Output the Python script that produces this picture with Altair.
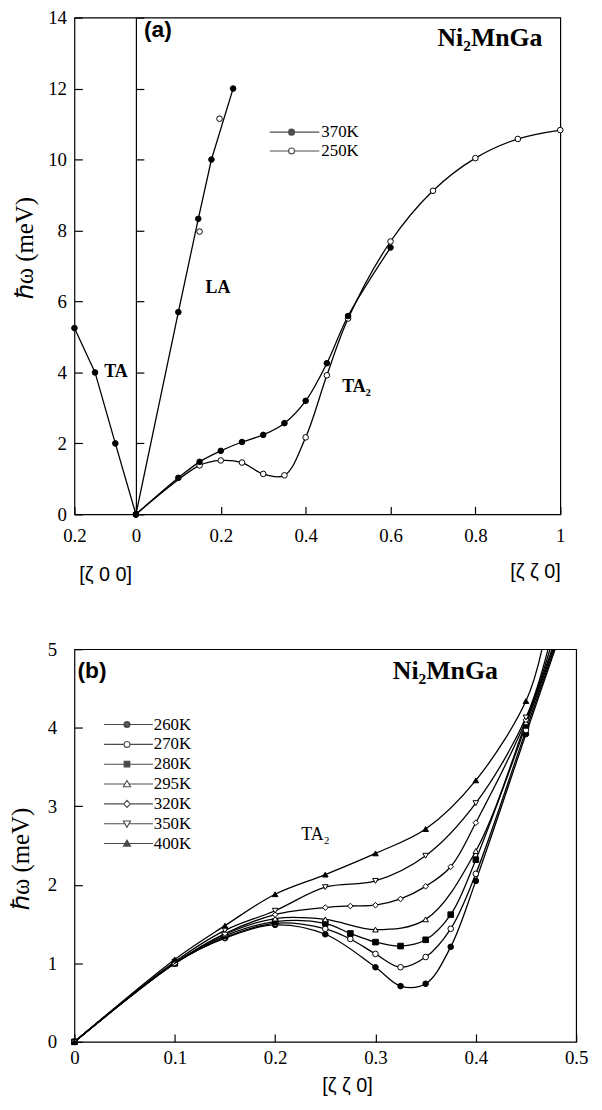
import altair as alt
import pandas as pd

SERIF = "Liberation Serif"
SANS = "Liberation Sans"

# ---------------- panel (a) data ----------------
ta_zeta = [0.0, 0.067, 0.133, 0.2]          # [zeta 0 0] branch, 370K
ta_omega = [0.0, 2.0, 4.0, 5.25]

la370_zeta = [0.0, 0.1, 0.147, 0.178, 0.229]
la370_omega = [0.0, 5.7, 8.33, 10.0, 12.0]
la250_zeta = [0.15, 0.197]
la250_omega = [7.97, 11.15]

ta2_370_zeta = [0.0, 0.1, 0.15, 0.2, 0.25, 0.3, 0.35, 0.4, 0.45, 0.5, 0.6]
ta2_370_omega = [0.0, 1.03, 1.48, 1.79, 2.04, 2.24, 2.57, 3.2, 4.26, 5.59, 7.52]
ta2_250_zeta = [0.0, 0.15, 0.2, 0.25, 0.3, 0.35, 0.4, 0.45, 0.5, 0.6, 0.7, 0.8, 0.9, 1.0]
ta2_250_omega = [0.0, 1.38, 1.52, 1.46, 1.14, 1.1, 2.17, 3.92, 5.52, 7.69, 9.12, 10.04, 10.58, 10.83]

a_series = ["370K", "250K"]
a_fills = ["black", "white"]

# ---------------- panel (b) data ----------------
b_series = ["260K", "270K", "280K", "295K", "320K", "350K", "400K"]
b_zeta = [0.0, 0.1, 0.15, 0.2, 0.25, 0.275, 0.3, 0.325, 0.35, 0.375, 0.4, 0.45]
omega_260 = [0.0, 1.0, 1.32, 1.49, 1.37, None, 0.95, 0.71, 0.74, 1.21, 2.05, 3.92]
omega_270 = [0.0, 1.0, 1.33, 1.51, 1.44, 1.31, 1.12, 0.95, 1.08, 1.44, 2.14, 3.97]
omega_280 = [0.0, 1.0, 1.35, 1.53, 1.51, 1.38, 1.27, 1.22, 1.30, 1.62, 2.32, 4.03]
omega_295 = [0.0, 1.0, 1.37, 1.57, 1.56, None, 1.43, None, 1.56, None, 2.43, 4.07]
omega_320 = [0.0, 1.0, 1.38, 1.62, 1.71, 1.73, 1.74, 1.82, 1.98, 2.23, 2.79, 4.10]
omega_350 = [0.0, 1.02, 1.42, 1.67, 1.97, None, 2.05, None, 2.37, None, 3.04, 4.13]
omega_400 = [0.0, 1.05, 1.48, 1.88, 2.13, None, 2.40, None, 2.71, None, 3.33, 4.34]
# where each curve leaves the top of the frame (omega = 5)
exit_zeta = [0.479, 0.478, 0.477, 0.476, 0.474, 0.472, 0.466]
exit_omega = [5.0, 5.0, 5.0, 5.0, 5.0, 5.0, 5.0]

b_shapes = ["circle", "circle", "square", "triangle-up", "diamond", "triangle-down", "triangle-up"]
b_fills = ["black", "white", "black", "white", "white", "white", "black"]

# ---------------- build tables ----------------
df_ta = pd.DataFrame({"zeta": ta_zeta, "omega": ta_omega})
df_la_line = pd.DataFrame({"zeta": la370_zeta, "omega": la370_omega, "series": "370K"})
df_ta2 = pd.concat([
    pd.DataFrame({"zeta": ta2_370_zeta, "omega": ta2_370_omega, "series": "370K"}),
    pd.DataFrame({"zeta": ta2_250_zeta, "omega": ta2_250_omega, "series": "250K"}),
])
# open (250K) markers first, filled (370K) drawn on top
df_a_pts = pd.concat([
    pd.DataFrame({"zeta": la250_zeta, "omega": la250_omega, "series": "250K"}),
    pd.DataFrame({"zeta": ta2_250_zeta, "omega": ta2_250_omega, "series": "250K"}),
    pd.DataFrame({"zeta": la370_zeta, "omega": la370_omega, "series": "370K"}),
    pd.DataFrame({"zeta": ta2_370_zeta, "omega": ta2_370_omega, "series": "370K"}),
]).reset_index(drop=True)
df_a_pts["order"] = range(len(df_a_pts))

b_omegas = [omega_260, omega_270, omega_280, omega_295, omega_320, omega_350, omega_400]
rows = []
for s, om, ez, eo in zip(b_series, b_omegas, exit_zeta, exit_omega):
    for z, w in zip(b_zeta, om):
        if w is not None:
            rows.append({"zeta": z, "omega": w, "series": s, "marker": True})
    rows.append({"zeta": ez, "omega": eo, "series": s, "marker": False})
df_b = pd.DataFrame(rows)


# ---------------- legend symbols (line + marker outline, solid via rings) ----------------
def _poly(pts, k, cy):
    return "M" + "L".join(f"{x * k:.3f},{(y - cy) * k + cy:.3f}" for x, y in pts) + "Z"


def leg_path(shape, filled, left, right):
    ks = [1.0, 0.68, 0.36, 0.08] if filled else [1.0]
    if shape == "circle":
        segs = f"M{-left},0H-1M1,0H{right}"
        body = "".join(f"M{-r},0A{r},{r} 0 1,1 {r},0A{r},{r} 0 1,1 {-r},0Z" for r in ks)
    elif shape == "square":
        segs = f"M{-left},0H-0.95M0.95,0H{right}"
        body = "".join(_poly([(-0.95, -0.95), (0.95, -0.95), (0.95, 0.95), (-0.95, 0.95)], k, 0) for k in ks)
    elif shape == "triangle-up":
        segs = f"M{-left},0H-0.69M0.69,0H{right}"
        body = "".join(_poly([(0, -1.2), (1.2, 0.9), (-1.2, 0.9)], k, 0.2) for k in ks)
    elif shape == "triangle-down":
        segs = f"M{-left},0H-0.69M0.69,0H{right}"
        body = "".join(_poly([(0, 1.2), (1.2, -0.9), (-1.2, -0.9)], k, -0.2) for k in ks)
    else:  # diamond
        segs = f"M{-left},0H-1.1M1.1,0H{right}"
        body = "".join(_poly([(0, -1.2), (1.1, 0), (0, 1.2), (-1.1, 0)], k, 0) for k in ks)
    return segs + body


def axis(**kw):
    base = dict(labelFont=SERIF, labelFontSize=19, labelColor="black", labelFlush=False,
                tickColor="black", tickWidth=1.2, grid=False, domain=False,
                offset=-8, tickSize=8, titleFont=SERIF, titleFontSize=25, titleColor="black",
                titleFontWeight="normal", format="~g", labelOverlap=False)
    base.update(kw)
    return alt.Axis(**base)


LINE = dict(color="black", strokeWidth=1.3)
PT = dict(size=32, stroke="black", strokeWidth=1, opacity=1, fillOpacity=1)

# ---------------- panel (a) geometry ----------------
W_L, W_R, H_A = 62, 428, 501
W_A = W_L + W_R
left_dom = [0.2 - 0.2 * W_A / W_L, 0.2]     # [zeta 0 0] scale, reversed
right_dom = [-W_L / W_R, 1.0]               # [zeta zeta 0] scale

ya_left = alt.Y("omega:Q", scale=alt.Scale(domain=[0, 14], nice=False),
                axis=axis(orient="left", values=list(range(0, 15, 2)), labelPadding=8,
                          title="ℏω (meV)", titleX=-58, titleY=232,
                          titleBaseline="middle", titleAlign="center"))
ya_zero = alt.Y("omega:Q", scale=alt.Scale(domain=[0, 14], nice=False),
                axis=axis(orient="right", offset=-W_R, values=list(range(0, 15, 2)), labels=False,
                          title=None, domain=True, domainColor="black", domainWidth=1.2))

# left part: [zeta 0 0]
xa_l = alt.X("zeta:Q", scale=alt.Scale(domain=left_dom, reverse=True, nice=False, zero=False),
             axis=axis(orient="bottom", values=[0.2], labelPadding=12, title="[ζ 0 0]",
                       titleFont=SANS, titleFontSize=20, titleX=W_L / 2, titleY=69,
                       titleBaseline="middle", titleAlign="center"))
ta_line = alt.Chart(df_ta).mark_line(**LINE).encode(x=xa_l, y=ya_left)
ta_pts = alt.Chart(df_ta).mark_point(fill="black", **PT).encode(x="zeta:Q", y="omega:Q")
ta_txt = alt.Chart(pd.DataFrame({"zeta": [0.103], "omega": [4.0], "label": ["TA"]})).mark_text(
    font=SERIF, fontSize=18, fontWeight="bold", align="left", baseline="middle", color="black"
).encode(x="zeta:Q", y="omega:Q", text="label:N")
left_group = alt.layer(ta_line, ta_pts, ta_txt)

# right part: [zeta zeta 0]
xa_r = alt.X("zeta:Q", scale=alt.Scale(domain=right_dom, nice=False, zero=False),
             axis=axis(orient="bottom", values=[0, 0.2, 0.4, 0.6, 0.8, 1], labelPadding=12,
                       title="[ζ ζ 0]", titleFont=SANS, titleFontSize=20, titleY=66,
                       titleBaseline="middle", titleAnchor="end"))

leg_a = alt.Legend(orient="none", legendX=210.5, legendY=107, title=None,
                   labelFont=SERIF, labelFontSize=17, labelColor="black", labelOffset=21.5,
                   rowPadding=1, padding=0, symbolSize=36, symbolStrokeWidth=1.1,
                   labelLimit=0)
a_leg_paths = [leg_path("circle", True, 7.3, 9.3), leg_path("circle", False, 7.3, 9.3)]

la_line = alt.Chart(df_la_line).mark_line(**LINE).encode(x=xa_r, y=ya_zero)
ta2_line = alt.Chart(df_ta2).mark_line(interpolate="catmull-rom", **LINE).encode(
    x="zeta:Q", y="omega:Q", detail="series:N")
a_pts = alt.Chart(df_a_pts).mark_point(**PT).encode(
    x="zeta:Q", y="omega:Q", order="order:Q",
    fill=alt.Fill("series:N", scale=alt.Scale(domain=a_series, range=a_fills), legend=None))
a_leg = alt.Chart(df_ta2).transform_filter("false").mark_point(
    size=36, stroke="black", strokeWidth=1.1).encode(
    x="zeta:Q", y="omega:Q",
    shape=alt.Shape("series:N", scale=alt.Scale(domain=a_series, range=a_leg_paths), legend=leg_a))

txt_a_lbl = alt.Chart(pd.DataFrame({"zeta": [0.019], "omega": [13.66], "label": ["(a)"]})).mark_text(
    font=SANS, fontSize=23, fontWeight="bold", align="left", baseline="middle", color="black"
).encode(x="zeta:Q", y="omega:Q", text="label:N")
txt_a_name = alt.Chart(pd.DataFrame({"zeta": [0.958], "omega": [13.42], "label": ["Ni₂MnGa"]})).mark_text(
    font=SERIF, fontSize=26, fontWeight="bold", align="right", baseline="middle", color="black"
).encode(x="zeta:Q", y="omega:Q", text="label:N")
txt_a_modes = alt.Chart(pd.DataFrame({"zeta": [0.164, 0.486], "omega": [6.38, 3.6],
                                      "label": ["LA", "TA₂"]})).mark_text(
    font=SERIF, fontSize=18, fontWeight="bold", align="left", baseline="middle", color="black"
).encode(x="zeta:Q", y="omega:Q", text="label:N")

right_group = alt.layer(la_line, ta2_line, a_pts, a_leg, txt_a_lbl, txt_a_name, txt_a_modes).resolve_scale(
    shape="independent", fill="independent")

panel_a = alt.layer(left_group, right_group).resolve_scale(x="independent").resolve_axis(
    x="independent", y="independent").properties(width=W_A, height=H_A)

# ---------------- panel (b) ----------------
xb = alt.X("zeta:Q", scale=alt.Scale(domain=[0, 0.5], nice=False),
           axis=axis(values=[0, 0.1, 0.2, 0.3, 0.4, 0.5], labelPadding=7, title="[ζ ζ 0]",
                     titleFont=SANS, titleFontSize=20, titleX=275, titleY=52,
                     titleBaseline="middle", titleAlign="center"))
yb = alt.Y("omega:Q", scale=alt.Scale(domain=[0, 5], nice=False),
           axis=axis(values=[0, 1, 2, 3, 4, 5], labelPadding=18, title="ℏω (meV)",
                     titleX=-62, titleY=211, titleBaseline="middle", titleAlign="center"))

leg_b = alt.Legend(orient="none", legendX=44.5, legendY=67.5, title=None,
                   labelFont=SERIF, labelFontSize=17, labelColor="black", labelOffset=18.5,
                   rowPadding=2, padding=0, symbolSize=36, symbolStrokeWidth=1.1,
                   labelLimit=0)
b_leg_paths = [leg_path(s, f == "black", 7.7, 8.7) for s, f in zip(b_shapes, b_fills)]

b_line = alt.Chart(df_b).mark_line(interpolate="catmull-rom", clip=True, **LINE).encode(
    x=xb, y=yb, detail="series:N")
b_pts = alt.Chart(df_b).transform_filter("datum.marker").mark_point(**PT).encode(
    x="zeta:Q", y="omega:Q",
    shape=alt.Shape("series:N", scale=alt.Scale(domain=b_series, range=b_shapes), legend=None),
    fill=alt.Fill("series:N", scale=alt.Scale(domain=b_series, range=b_fills), legend=None))
b_leg = alt.Chart(df_b).transform_filter("false").mark_point(
    size=36, stroke="black", strokeWidth=1.1).encode(
    x="zeta:Q", y="omega:Q",
    shape=alt.Shape("series:N", scale=alt.Scale(domain=b_series, range=b_leg_paths), legend=leg_b))

txt_b_lbl = alt.Chart(pd.DataFrame({"zeta": [0.003], "omega": [4.72], "label": ["(b)"]})).mark_text(
    font=SANS, fontSize=23, fontWeight="bold", align="left", baseline="middle", color="black"
).encode(x="zeta:Q", y="omega:Q", text="label:N")
txt_b_name = alt.Chart(pd.DataFrame({"zeta": [0.422], "omega": [4.72], "label": ["Ni₂MnGa"]})).mark_text(
    font=SERIF, fontSize=26, fontWeight="bold", align="right", baseline="middle", color="black"
).encode(x="zeta:Q", y="omega:Q", text="label:N")
txt_b_mode = alt.Chart(pd.DataFrame({"zeta": [0.226], "omega": [2.64], "label": ["TA₂"]})).mark_text(
    font=SERIF, fontSize=18, fontWeight="normal", align="left", baseline="middle", color="black"
).encode(x="zeta:Q", y="omega:Q", text="label:N")

panel_b = alt.layer(b_line, b_pts, b_leg, txt_b_lbl, txt_b_name, txt_b_mode).resolve_scale(
    shape="independent", fill="independent").properties(width=506, height=396)

chart = alt.vconcat(panel_a, panel_b, spacing=136, bounds="flush").properties(
    padding={"left": 0, "top": -5, "right": 5, "bottom": 5},
    background="white",
).configure_view(stroke="black", strokeWidth=1.2).configure_axis(
    labelFont=SERIF, labelFontSize=19, titleFont=SERIF, titleFontSize=25,
    titleFontWeight="normal", labelColor="black", titleColor="black"
).configure_legend(labelFont=SERIF, labelFontSize=17, labelColor="black")

chart.save("out.html", embed_options={"renderer": "svg", "actions": False})
